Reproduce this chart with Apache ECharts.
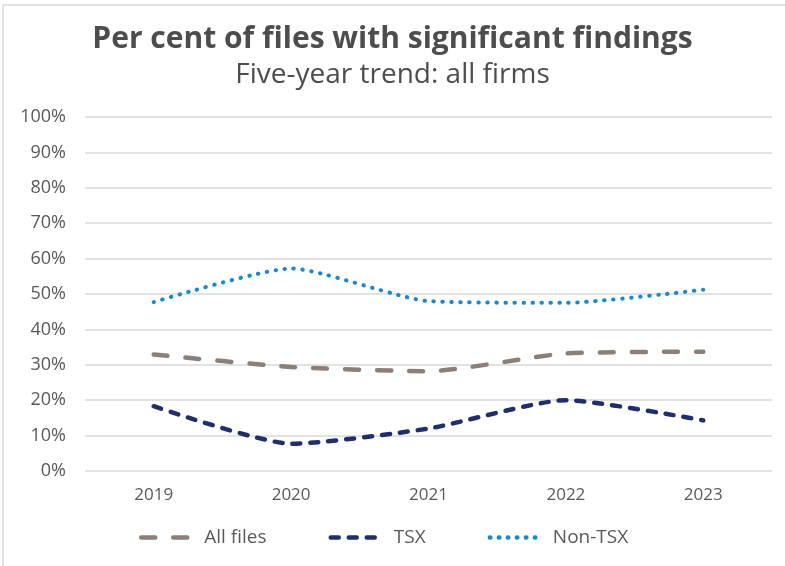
<!DOCTYPE html>
<html><head><meta charset="utf-8">
<script src="https://cdn.jsdelivr.net/npm/echarts@6/dist/echarts.min.js"></script>
<style>html,body{margin:0;padding:0;background:#fff}#c{width:785px;height:566px}</style>
</head><body><div id="c"></div>
<script>
const years = ['2019','2020','2021','2022','2023'];
const allFiles = [32.9, 29.4, 28.2, 33.2, 33.7];
const tsx = [18.3, 7.7, 12.0, 20.0, 14.3];
const nonTsx = [47.7, 57.2, 48.0, 47.5, 51.2];
const yTicks = [0,10,20,30,40,50,60,70,80,90,100];

const FONT = 'Open Sans';
const chart = echarts.init(document.getElementById('c'));
chart.setOption({
  backgroundColor: '#fff',
  graphic: [{type:'rect', shape:{x:3,y:5,width:800,height:600}, style:{fill:'none', stroke:'#e3e3e3', lineWidth:2}, silent:true}],
  title: [
    {text:'Per cent of files with significant findings', left:'center', top:19,
     textStyle:{fontFamily:FONT, fontWeight:'bold', fontSize:30, color:'#4d4d4d'}},
    {text:'Five-year trend: all firms', left:'center', top:56,
     textStyle:{fontFamily:FONT, fontWeight:'normal', fontSize:28, color:'#4d4d4d'}}
  ],
  grid: {left:85, right:13, top:117, bottom:95, containLabel:false},
  xAxis: {type:'category', data:years, boundaryGap:true,
    axisLine:{show:false}, axisTick:{show:false},
    axisLabel:{fontFamily:FONT, fontSize:17, color:'#595959', margin:16}},
  yAxis: {type:'value', min:0, max:100, interval:10,
    axisLine:{show:false}, axisTick:{show:false},
    splitLine:{lineStyle:{color:'#d9d9d9', width:1.5}},
    axisLabel:{fontFamily:FONT, fontSize:18, color:'#595959', margin:19,
      formatter: v => yTicks.includes(v) ? v + '%' : ''}},
  legend: {bottom:14, left:134, itemWidth:50, itemHeight:14, itemGap:62,
    itemStyle:{opacity:0},
    lineStyle:{width:4.5},
    textStyle:{fontFamily:FONT, fontSize:19, color:'#595959', padding:[0,0,0,8]},
    data:['All files','TSX','Non-TSX']},
  series: [
    {name:'All files', type:'line', data:allFiles, smooth:0.2, symbol:'none',
     lineStyle:{color:'#8c7f77', width:4.5, type:[14,18], cap:'round'}, itemStyle:{color:'#8c7f77'}},
    {name:'TSX', type:'line', data:tsx, smooth:0.2, symbol:'none',
     lineStyle:{color:'#1f2f6b', width:4.5, type:[8,10], cap:'round'}, itemStyle:{color:'#1f2f6b'}},
    {name:'Non-TSX', type:'line', data:nonTsx, smooth:0.2, symbol:'none',
     lineStyle:{color:'#1a88c9', width:4, type:[0.5,8.5], cap:'round'}, itemStyle:{color:'#1a88c9'}}
  ]
});
</script></body></html>
